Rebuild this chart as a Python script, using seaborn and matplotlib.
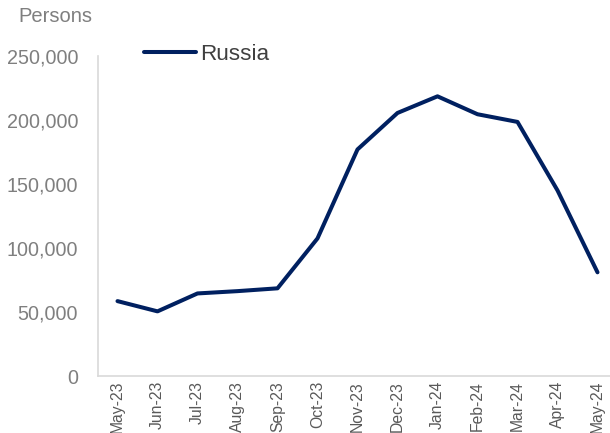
import pandas as pd
import seaborn as sns
import matplotlib.pyplot as plt

# Monthly values
months = ["May-23", "Jun-23", "Jul-23", "Aug-23", "Sep-23", "Oct-23", "Nov-23",
          "Dec-23", "Jan-24", "Feb-24", "Mar-24", "Apr-24", "May-24"]
russia = [58500, 50500, 64500, 66300, 68500, 107500, 177000,
          205500, 218500, 204500, 198500, 145000, 81000]
yticks = [0, 50000, 100000, 150000, 200000, 250000]

df = pd.DataFrame({"month": months, "persons": russia, "series": "Russia"})

sns.set_style("white")
plt.rcParams["font.family"] = ["Liberation Sans", "DejaVu Sans"]

fig = plt.figure(figsize=(6.1, 4.33), dpi=100)
# axes runs past the right edge of the figure like the original
ax = fig.add_axes([97.5 / 610, 57 / 433, 520 / 610, 320 / 433])

sns.lineplot(data=df, x="month", y="persons", hue="series", palette=["#002060"],
             sort=False, linewidth=2.9, ax=ax)

ax.set_xlim(-0.5, len(months) - 0.5)
ax.set_ylim(0, 250000)
ax.set_yticks(yticks)
ax.set_yticklabels([f"{v:,}" for v in yticks])
ax.set_xlabel("")
ax.set_ylabel("")

ax.tick_params(axis="y", length=0, pad=14, labelsize=14.2, labelcolor="#7f7f7f")
ax.tick_params(axis="x", length=0, pad=3.5, labelsize=11.3, labelcolor="#595959",
               labelrotation=90)

for side in ["top", "right"]:
    ax.spines[side].set_visible(False)
for side in ["left", "bottom"]:
    ax.spines[side].set_color("#d9d9d9")
    ax.spines[side].set_linewidth(1.2)

leg = ax.legend(loc="center left", bbox_to_anchor=(144 / 610, 1 - 54 / 433),
                bbox_transform=fig.transFigure, frameon=False, fontsize=16.2,
                handlelength=2.3, handletextpad=0.2, borderaxespad=0,
                borderpad=0)
for t in leg.get_texts():
    t.set_color("#404040")
for h in leg.get_lines():
    h.set_linewidth(2.9)

fig.text(18 / 610, 1 - 17 / 433, "Persons", fontsize=14.5, color="#7f7f7f",
         va="center", ha="left")

plt.savefig("out.png", dpi=100)
